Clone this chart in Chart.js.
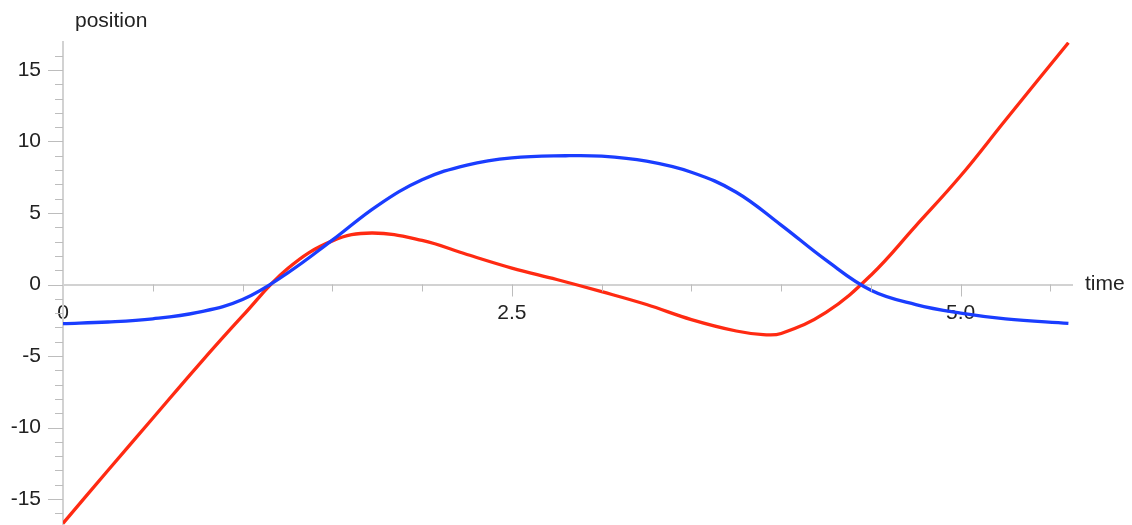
<!DOCTYPE html>
<html>
<head>
<meta charset="utf-8">
<script src="https://cdn.jsdelivr.net/npm/chart.js@4.4.1/dist/chart.umd.min.js"></script>
<style>
    html, body { margin: 0; padding: 0; background: #fff; }
    #wrap { width: 1132px; height: 525px; position: relative; }
</style>
</head>
<body>
<div id="wrap"><canvas id="posChart"></canvas></div>
<script>
// ==================== DATA ====================
const blueTimes = [0, 0.25, 0.5, 0.75, 1.0, 1.25, 1.5, 1.75, 2.0, 2.25, 2.5, 2.8, 3.0, 3.25, 3.5, 3.75, 4.0, 4.25, 4.5, 4.75, 5.0, 5.25, 5.6];
const blueValues = [-2.73, -2.62, -2.4, -1.95, -1.05, 0.8, 3.1, 5.5, 7.32, 8.35, 8.85, 9.0, 8.97, 8.62, 7.85, 6.45, 4.15, 1.7, -0.4, -1.4, -2.0, -2.4, -2.72];

const redTimes = [0, 0.25, 0.5, 0.75, 1.0, 1.25, 1.5, 1.72, 2.0, 2.25, 2.5, 2.75, 3.0, 3.25, 3.5, 3.75, 3.9, 4.0, 4.25, 4.5, 4.75, 5.0, 5.25, 5.6];
const redValues = [-16.7, -13.0, -9.35, -5.7, -2.2, 1.1, 3.05, 3.6, 3.08, 2.1, 1.15, 0.35, -0.5, -1.4, -2.45, -3.25, -3.5, -3.42, -1.95, 0.65, 4.1, 7.6, 11.5, 16.9];

const xTickValues = [0, 2.5, 5.0];
const xTickLabels = ['0', '2.5', '5.0'];
const yTickValues = [-15, -10, -5, 0, 5, 10, 15];
const yTickLabels = ['-15', '-10', '-5', '0', '5', '10', '15'];

const xTitle = 'time';
const yTitle = 'position';

// ==================== HELPERS ====================
const FONT = '"Liberation Sans", Arial, Helvetica, sans-serif';
const AXIS_COLOR = '#d2d2d2';
const TICK_COLOR = '#bdbdbd';

function toPoints(xs, ys) {
    return xs.map((x, i) => ({ x, y: ys[i] }));
}

function fixedTicks(values) {
    return scale => { scale.ticks = values.map(v => ({ value: v })); };
}

// tick marks (major/minor) + axis titles, positioned through the scales
const axisDecor = {
    id: 'axisDecor',
    afterDraw(chart) {
        const { ctx, chartArea } = chart;
        const xs = chart.scales.x, ys = chart.scales.y;
        const x0 = xs.getPixelForValue(0);
        const y0 = ys.getPixelForValue(0);
        ctx.save();
        ctx.strokeStyle = TICK_COLOR;
        ctx.lineWidth = 1;
        ctx.beginPath();
        for (let t = 1; t <= 11; t++) {
            const px = Math.round(xs.getPixelForValue(t * 0.5)) + 0.5;
            const len = (t % 5 === 0) ? 12 : 7;
            ctx.moveTo(px, y0);
            ctx.lineTo(px, y0 + len);
        }
        for (let v = -16; v <= 16; v++) {
            const py = Math.round(ys.getPixelForValue(v)) + 0.5;
            const len = (v % 5 === 0) ? 15 : 8;
            ctx.moveTo(x0, py);
            ctx.lineTo(x0 - len, py);
        }
        ctx.stroke();

        ctx.fillStyle = '#222';
        ctx.font = '21px ' + FONT;
        ctx.textBaseline = 'middle';
        ctx.textAlign = 'left';
        ctx.fillText(xTitle, chartArea.right + 13, y0);
        ctx.fillText(yTitle, x0 + 12, 21);
        ctx.restore();
    }
};

// ==================== CHART ====================
const chart = new Chart(document.getElementById('posChart'), {
    type: 'line',
    data: {
        datasets: [
            {
                label: 'blue', data: toPoints(blueTimes, blueValues),
                borderColor: '#1a3dff', borderWidth: 3.3,
                pointRadius: 0, tension: 0.4, fill: false
            },
            {
                label: 'red', data: toPoints(redTimes, redValues),
                borderColor: '#ff2a12', borderWidth: 3.3,
                pointRadius: 0, tension: 0.4, fill: false
            }
        ]
    },
    options: {
        responsive: true, maintainAspectRatio: false, animation: false,
        layout: { padding: { left: 0, top: 42, right: 60, bottom: 0 } },
        plugins: { legend: { display: false }, tooltip: { enabled: false } },
        scales: {
            x: {
                type: 'linear', min: 0, max: 5.62,
                position: { y: 0 },
                grid: { display: false, drawTicks: false },
                border: { display: true, color: AXIS_COLOR, width: 2 },
                afterBuildTicks: fixedTicks(xTickValues),
                afterFit: s => { s.paddingLeft = 0; s.paddingRight = 0; },
                ticks: {
                    autoSkip: false, maxRotation: 0, padding: 16,
                    color: '#222', font: { family: FONT, size: 21 },
                    callback: (v, i) => xTickLabels[i]
                }
            },
            y: {
                type: 'linear', min: -16.81, max: 16.95,
                position: 'left',
                grid: { display: false, drawTicks: false },
                border: { display: true, color: AXIS_COLOR, width: 2 },
                afterBuildTicks: fixedTicks(yTickValues),
                afterFit: s => { s.width = 63; s.paddingTop = 0; s.paddingBottom = 0; },
                ticks: {
                    autoSkip: false, padding: 22,
                    color: '#222', font: { family: FONT, size: 21 },
                    callback: (v, i) => yTickLabels[i]
                }
            }
        }
    },
    plugins: [axisDecor]
});
</script>
</body>
</html>
